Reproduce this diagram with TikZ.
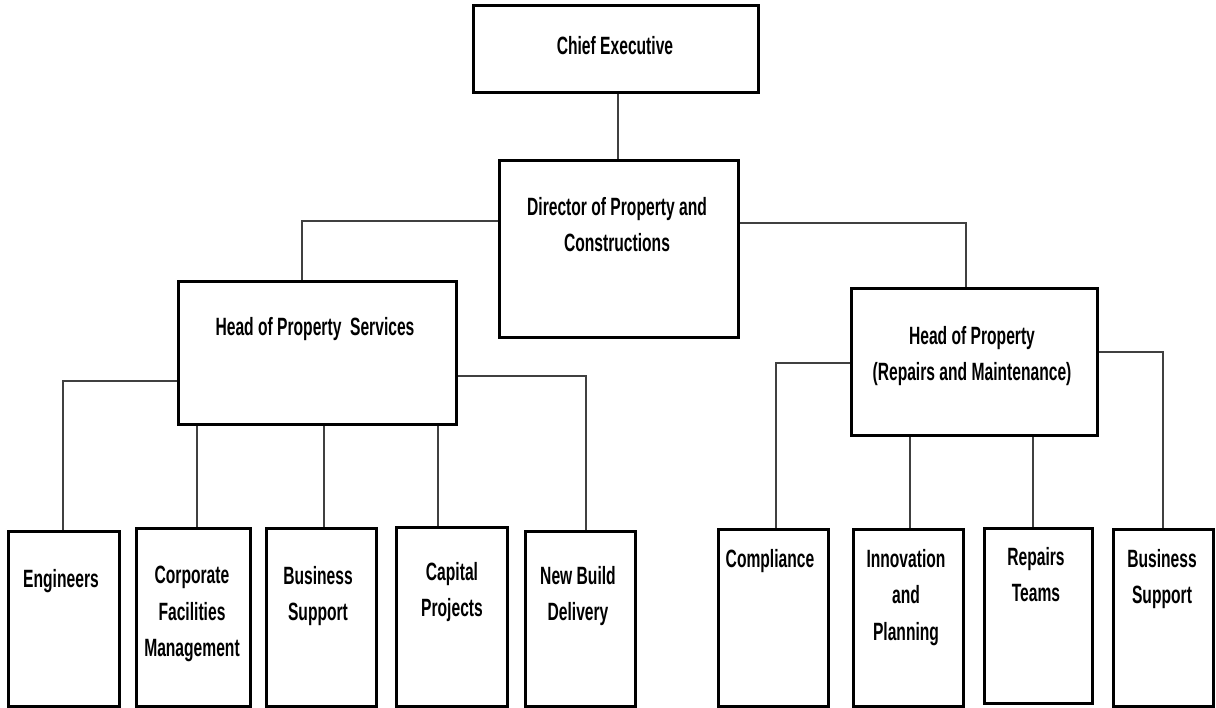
\documentclass[tikz,border=0pt]{standalone}
\usepackage{fontspec}
\newfontfamily\narrowfont[FakeStretch=0.625]{Liberation Sans}
\begin{document}
\begin{tikzpicture}[x=1pt,y=-1pt,
  box/.style={draw=black, line width=3.2pt, rectangle, inner sep=0pt, anchor=north west},
  lbl/.style={font=\narrowfont\bfseries\fontsize{25}{36.5}\selectfont, align=center, anchor=north, inner sep=0pt},
  conn/.style={draw=black!75, line width=1.2pt}]
\useasboundingbox (0,0) rectangle (1216,708);
\fill[white] (0,0) rectangle (1216,708);
% boxes
\node[box, minimum width=285pt, minimum height=87pt] (ce) at (472,4) {};
\node[box, minimum width=239pt, minimum height=177pt] (dir) at (498,159) {};
\node[box, minimum width=278pt, minimum height=143pt] (hps) at (177,280) {};
\node[box, minimum width=246pt, minimum height=147pt] (hpr) at (850,287) {};
\node[box, minimum width=111pt, minimum height=175pt] (eng) at (7,530) {};
\node[box, minimum width=114pt, minimum height=178pt] (cfm) at (135,527) {};
\node[box, minimum width=110pt, minimum height=178pt] (bs1) at (265,527) {};
\node[box, minimum width=111pt, minimum height=179pt] (cap) at (395,526) {};
\node[box, minimum width=110pt, minimum height=175pt] (nbd) at (524,530) {};
\node[box, minimum width=110pt, minimum height=177pt] (cmp) at (717,528) {};
\node[box, minimum width=110pt, minimum height=177pt] (inn) at (852,528) {};
\node[box, minimum width=108pt, minimum height=175pt] (rep) at (983,527) {};
\node[box, minimum width=100pt, minimum height=177pt] (bs2) at (1112,528) {};
% labels
\node[lbl] (tce) at (615,36) {Chief Executive};
\node[lbl] (tdir) at (617,197) {Director of Property and\\Constructions};
\node[lbl] (thps) at (315,317) {Head of Property\ \ Services};
\node[lbl] (thpr) at (972,326) {Head of Property\\(Repairs and Maintenance)};
\node[lbl] (teng) at (61,569) {Engineers};
\node[lbl] (tcfm) at (192,566) {Corporate\\Facilities\\Management};
\node[lbl] (tbs1) at (318,566) {Business\\Support};
\node[lbl] (tcap) at (452,562) {Capital\\Projects};
\node[lbl] (tnbd) at (578,566) {New Build\\Delivery};
\node[lbl] (tcmp) at (770,549) {Compliance};
\node[lbl] (tinn) at (906,549) {Innovation\\and\\Planning};
\node[lbl] (trep) at (1036,547) {Repairs\\Teams};
\node[lbl] (tbs2) at (1162,549) {Business\\Support};
% connectors
\draw[conn] (dir.north -| 618,0) -- (ce.south -| 618,0);
\draw[conn] (dir.west |- 0,221) -| (hps.north -| 302,0);
\draw[conn] (dir.east |- 0,223) -| (hpr.north -| 966,0);
\draw[conn] (hps.west |- 0,381) -| (eng.north -| 63,0);
\draw[conn] (hps.east |- 0,376) -| (nbd.north -| 586,0);
\draw[conn] (hps.south -| 197,0) -- (cfm.north -| 197,0);
\draw[conn] (hps.south -| 324,0) -- (bs1.north -| 324,0);
\draw[conn] (hps.south -| 438,0) -- (cap.north -| 438,0);
\draw[conn] (hpr.west |- 0,363) -| (cmp.north -| 776,0);
\draw[conn] (hpr.east |- 0,352) -| (bs2.north -| 1163,0);
\draw[conn] (hpr.south -| 910,0) -- (inn.north -| 910,0);
\draw[conn] (hpr.south -| 1033,0) -- (rep.north -| 1033,0);
\end{tikzpicture}
\end{document}
